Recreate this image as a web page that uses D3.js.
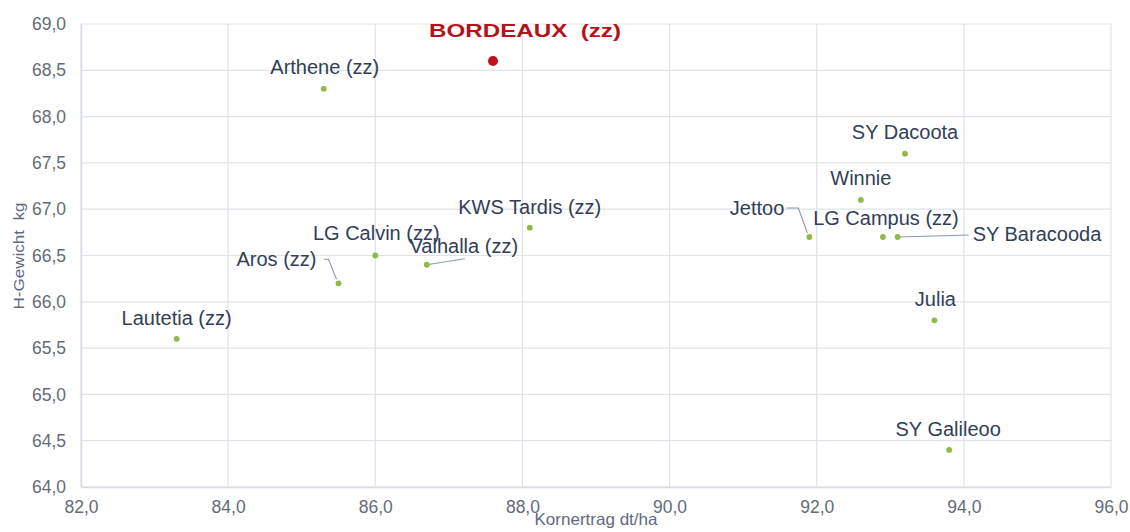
<!DOCTYPE html>
<html><head><meta charset="utf-8">
<script src="https://cdn.jsdelivr.net/npm/d3@7"></script>
<style>
html,body{margin:0;padding:0;background:#fff;}
svg{display:block;font-family:"Liberation Sans",Arial,sans-serif;}
</style></head>
<body><svg id="chart" width="1130" height="532"></svg>
<script>
// ---- data ----
const varieties = ["BORDEAUX  (zz)","Arthene (zz)","SY Dacoota","Winnie","KWS Tardis (zz)","Jettoo","LG Campus (zz)","SY Baracooda","LG Calvin (zz)","Valhalla (zz)","Aros (zz)","Julia","Lautetia (zz)","SY Galileoo"];
const kornertrag = [87.6,85.3,93.2,92.6,88.1,91.9,92.9,93.1,86.0,86.7,85.5,93.6,83.3,93.8];
const hGewicht   = [68.6,68.3,67.6,67.1,66.8,66.7,66.7,66.7,66.5,66.4,66.2,65.8,65.6,64.4];
const highlight  = [true,false,false,false,false,false,false,false,false,false,false,false,false,false];
const xTicks = [82,84,86,88,90,92,94,96];
const yTicks = [64,64.5,65,65.5,66,66.5,67,67.5,68,68.5,69];
const xTitle = "Kornertrag dt/ha";
const yTitle = "H-Gewicht  kg";

// ---- layout (label placement relative to point, px) ----
// [dx, dy, anchor, leader polyline]
const labelLayout = [
  [32,-24,"middle",null],
  [1,-15,"middle",null],
  [0,-15,"middle",null],
  [0,-15,"middle",null],
  [0,-14,"middle",null],
  [-25,-22,"end",[[-2,-4],[-11,-29],[-23,-29]]],
  [3,-12,"middle",null],
  [75,4,"start",[[0,0],[71,-2]]],
  [1,-16,"middle",null],
  [37,-12,"middle",[[0,0],[38,-6]]],
  [-22,-17,"end",[[-2,-4],[-10,-24],[-15,-24]]],
  [1,-14,"middle",null],
  [0,-14,"middle",null],
  [-1,-14,"middle",null]
];

const svg = d3.select("#chart");
const x = d3.scaleLinear().domain([82,96]).range([81,1111]);
const y = d3.scaleLinear().domain([64,69]).range([487,24]);
const fmt = v => d3.format(".1f")(v).replace(".", ",");
const gridColor = "#dfe3ea";

// grid
svg.append("g").selectAll("line").data(xTicks).join("line")
  .attr("x1", d=>x(d)).attr("x2", d=>x(d)).attr("y1", y(64)).attr("y2", y(69))
  .attr("stroke", gridColor).attr("stroke-width", 1.2);
svg.append("g").selectAll("line").data(yTicks).join("line")
  .attr("x1", x(82)).attr("x2", x(96)).attr("y1", d=>y(d)).attr("y2", d=>y(d))
  .attr("stroke", gridColor).attr("stroke-width", 1.2);

// axes
const xAxis = svg.append("g").attr("transform", `translate(0,${y(64)})`)
  .call(d3.axisBottom(x).tickValues(xTicks).tickFormat(fmt).tickSize(0).tickPadding(14));
const yAxis = svg.append("g").attr("transform", `translate(${x(82)},0)`)
  .call(d3.axisLeft(y).tickValues(yTicks).tickFormat(fmt).tickSize(0).tickPadding(15));
[xAxis,yAxis].forEach(a=>{
  a.select(".domain").attr("stroke", "#d7dce5").attr("stroke-width",1.5);
  a.selectAll("text").attr("font-family","Liberation Sans, Arial, sans-serif")
   .attr("font-size", 17.5).attr("fill", "#646b79");
});
xAxis.selectAll("text").attr("dy","0.71em");

// axis titles
svg.append("text").attr("x", 596).attr("y", 525).attr("text-anchor","middle")
  .attr("font-size", 16.5).attr("fill","#5f6a80")
  .attr("textLength",123).attr("lengthAdjust","spacingAndGlyphs").text(xTitle);
svg.append("text").attr("transform","translate(24,256) rotate(-90)").attr("text-anchor","middle")
  .attr("font-size", 15).attr("fill","#5f6a80")
  .attr("textLength",107).attr("lengthAdjust","spacingAndGlyphs")
  .attr("xml:space","preserve").style("white-space","pre").text(yTitle);

// leader lines
const pts = varieties.map((n,i)=>({name:n, x:x(kornertrag[i]), y:y(hGewicht[i]), hl:highlight[i], lay:labelLayout[i]}));
svg.append("g").selectAll("polyline").data(pts.filter(p=>p.lay[3])).join("polyline")
  .attr("points", p=>p.lay[3].map(q=>[p.x+q[0], p.y+q[1]].join(",")).join(" "))
  .attr("fill","none").attr("stroke","#8e9aab").attr("stroke-width",1.1);

// points
svg.append("g").selectAll("circle").data(pts).join("circle")
  .attr("cx", p=>p.x).attr("cy", p=>p.y)
  .attr("r", p=>p.hl?5:2.9)
  .attr("fill", p=>p.hl?"#c0121a":"#93b84a");

// labels
const lab = svg.append("g").selectAll("text").data(pts).join("text")
  .attr("x", p=>p.x+p.lay[0]).attr("y", p=>p.y+p.lay[1])
  .attr("text-anchor", p=>p.lay[2])
  .attr("font-size", p=>p.hl?19:20)
  .attr("font-weight", p=>p.hl?"bold":"normal")
  .attr("fill", p=>p.hl?"#b5121b":"#323e58")
  .attr("xml:space","preserve")
  .style("white-space","pre")
  .text(p=>p.name);
lab.filter(p=>p.hl).attr("textLength",192).attr("lengthAdjust","spacingAndGlyphs");
</script>
</body></html>
